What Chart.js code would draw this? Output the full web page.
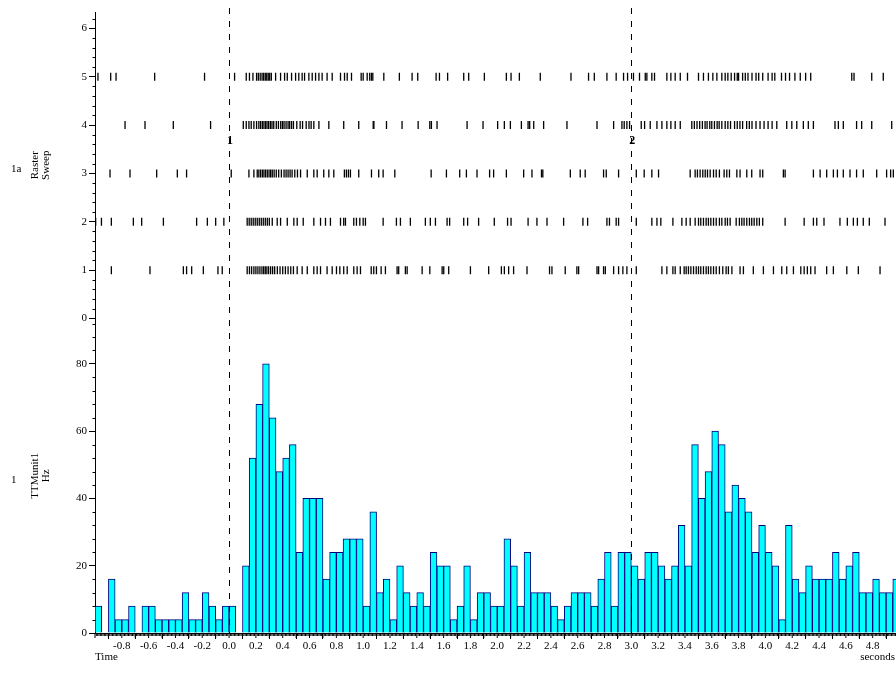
<!DOCTYPE html>
<html>
<head>
<meta charset="utf-8">
<script src="https://cdn.jsdelivr.net/npm/chart.js@4.4.0/dist/chart.umd.min.js"></script>
<style>
  html, body { margin: 0; padding: 0; background: #fff; }
</style>
</head>
<body>
<canvas id="grafico" width="896" height="673"></canvas>
<script>
// histogram bins (left edge, seconds) and rate per bin (Hz)
const binLeft = [
  -1.00, -0.95, -0.90, -0.85, -0.80, -0.75, -0.70, -0.65, -0.60, -0.55,
  -0.50, -0.45, -0.40, -0.35, -0.30, -0.25, -0.20, -0.15, -0.10, -0.05,
  0.00, 0.05, 0.10, 0.15, 0.20, 0.25, 0.30, 0.35, 0.40, 0.45,
  0.50, 0.55, 0.60, 0.65, 0.70, 0.75, 0.80, 0.85, 0.90, 0.95,
  1.00, 1.05, 1.10, 1.15, 1.20, 1.25, 1.30, 1.35, 1.40, 1.45,
  1.50, 1.55, 1.60, 1.65, 1.70, 1.75, 1.80, 1.85, 1.90, 1.95,
  2.00, 2.05, 2.10, 2.15, 2.20, 2.25, 2.30, 2.35, 2.40, 2.45,
  2.50, 2.55, 2.60, 2.65, 2.70, 2.75, 2.80, 2.85, 2.90, 2.95,
  3.00, 3.05, 3.10, 3.15, 3.20, 3.25, 3.30, 3.35, 3.40, 3.45,
  3.50, 3.55, 3.60, 3.65, 3.70, 3.75, 3.80, 3.85, 3.90, 3.95,
  4.00, 4.05, 4.10, 4.15, 4.20, 4.25, 4.30, 4.35, 4.40, 4.45,
  4.50, 4.55, 4.60, 4.65, 4.70, 4.75, 4.80, 4.85, 4.90, 4.95
];
const binWidth = 0.05;
const rates = [
  8, 0, 16, 4, 4, 8, 0, 8, 8, 4,
  4, 4, 4, 12, 4, 4, 12, 8, 4, 8,
  8, 0, 20, 52, 68, 80, 64, 48, 52, 56,
  24, 40, 40, 40, 16, 24, 24, 28, 28, 28,
  8, 36, 12, 16, 4, 20, 12, 8, 12, 8,
  24, 20, 20, 4, 8, 20, 4, 12, 12, 8,
  8, 28, 20, 8, 24, 12, 12, 12, 8, 4,
  8, 12, 12, 12, 8, 16, 24, 8, 24, 24,
  20, 16, 24, 24, 20, 16, 20, 32, 20, 56,
  40, 48, 60, 56, 36, 44, 40, 36, 24, 32,
  24, 20, 4, 32, 16, 12, 20, 16, 16, 16,
  24, 16, 20, 24, 12, 12, 16, 12, 12, 16
];

// spike times (s) per sweep, read from the raster
const sweep1 = [-0.878, -0.59, -0.341, -0.317, -0.279, -0.192, -0.083, -0.051,
  0.135, 0.152, 0.168, 0.185, 0.2, 0.215, 0.23, 0.245, 0.258, 0.27, 0.282, 0.295, 0.31, 0.325, 0.34, 0.36, 0.38, 0.4, 0.42, 0.44, 0.46, 0.48, 0.508,
  0.545, 0.583, 0.632, 0.657, 0.682, 0.731, 0.769, 0.801, 0.826, 0.855, 0.881, 0.93, 0.955, 0.98,
  1.06, 1.079, 1.099, 1.134, 1.166, 1.253, 1.265, 1.315, 1.328, 1.44, 1.497, 1.589, 1.601, 1.638, 1.8, 1.936,
  2.031, 2.053, 2.085, 2.122, 2.222, 2.39, 2.408, 2.507, 2.594, 2.607, 2.744, 2.756, 2.793, 2.806, 2.868, 2.905, 2.937, 2.967,
  3.037, 3.228, 3.265, 3.31, 3.327, 3.365, 3.394, 3.409, 3.426, 3.444, 3.464, 3.484, 3.501, 3.518, 3.538, 3.558, 3.575, 3.593, 3.613, 3.633, 3.657, 3.682, 3.707, 3.724, 3.75, 3.811, 3.836, 3.91, 3.985,
  4.06, 4.122, 4.159, 4.209, 4.264, 4.289, 4.313, 4.338, 4.37, 4.457, 4.507, 4.607, 4.693, 4.855];
const sweep2 = [-0.995, -0.952, -0.878, -0.714, -0.652, -0.49, -0.242, -0.162, -0.1, -0.039,
  0.135, 0.15, 0.165, 0.18, 0.195, 0.21, 0.225, 0.24, 0.255, 0.27, 0.285, 0.3, 0.322, 0.359, 0.384, 0.434, 0.483, 0.508, 0.553, 0.632, 0.682, 0.719, 0.756, 0.831, 0.855, 0.868, 0.93, 0.95, 0.975, 1.0, 1.017,
  1.149, 1.248, 1.278, 1.352, 1.464, 1.501, 1.539, 1.626, 1.645, 1.75, 1.779, 1.861, 1.978,
  2.077, 2.103, 2.23, 2.296, 2.371, 2.495, 2.639, 2.674, 2.818, 2.837, 2.887, 2.905,
  3.037, 3.153, 3.191, 3.22, 3.31, 3.377, 3.409, 3.439, 3.476, 3.501, 3.518, 3.538, 3.558, 3.575, 3.593, 3.613, 3.633, 3.657, 3.675, 3.7, 3.717, 3.737, 3.782, 3.806, 3.824, 3.841, 3.861, 3.881, 3.898, 3.916, 3.936, 3.955, 3.98,
  4.147, 4.289, 4.358, 4.383, 4.437, 4.556, 4.611, 4.656, 4.686, 4.73, 4.775, 4.892];
const sweep3 = [-0.888, -0.739, -0.54, -0.386, -0.317, 0.016,
  0.148, 0.185, 0.21, 0.222, 0.235, 0.248, 0.26, 0.272, 0.285, 0.298, 0.31, 0.322, 0.336, 0.352, 0.37, 0.39, 0.41, 0.425, 0.44, 0.455, 0.47, 0.49, 0.51, 0.533,
  0.583, 0.632, 0.657, 0.706, 0.744, 0.781, 0.86, 0.875, 0.89, 0.905, 0.967,
  1.062, 1.116, 1.149, 1.236, 1.507, 1.621, 1.72, 1.77, 1.849, 1.943, 1.973,
  2.068, 2.197, 2.259, 2.33, 2.34, 2.545, 2.619, 2.656, 2.793, 2.813, 2.905,
  3.037, 3.096, 3.153, 3.203, 3.439, 3.476, 3.493, 3.513, 3.533, 3.551, 3.568, 3.588, 3.613, 3.633, 3.657, 3.692, 3.712, 3.732, 3.787, 3.811, 3.861, 3.898, 3.96, 3.98,
  4.134, 4.147, 4.358, 4.408, 4.457, 4.507, 4.537, 4.581, 4.631, 4.68, 4.73, 4.83, 4.904, 4.934, 4.954];
const sweep4 = [-0.776, -0.627, -0.416, -0.138, 0.106,
  0.128, 0.148, 0.165, 0.185, 0.205, 0.222, 0.235, 0.248, 0.26, 0.272, 0.283, 0.295, 0.308, 0.32, 0.333, 0.352, 0.368, 0.385, 0.398, 0.41, 0.425, 0.44, 0.452, 0.466, 0.48, 0.505, 0.53, 0.548, 0.575, 0.596, 0.612, 0.632, 0.67, 0.744, 0.855, 0.967,
  1.075, 1.08, 1.174, 1.29, 1.41, 1.497, 1.509, 1.551, 1.775, 1.894,
  2.003, 2.053, 2.098, 2.18, 2.23, 2.242, 2.272, 2.346, 2.52, 2.744, 2.868, 2.93, 2.947, 2.967, 2.987,
  3.074, 3.099, 3.141, 3.191, 3.228, 3.265, 3.295, 3.327, 3.365, 3.451, 3.47, 3.49, 3.51, 3.53, 3.55, 3.565, 3.585, 3.6, 3.62, 3.64, 3.655, 3.675, 3.7, 3.72, 3.74, 3.77, 3.79, 3.81, 3.83, 3.86, 3.88, 3.9, 3.93, 3.96, 3.99,
  4.02, 4.05, 4.085, 4.159, 4.197, 4.234, 4.283, 4.32, 4.358, 4.519, 4.544, 4.581, 4.68, 4.718, 4.793, 4.942];
const sweep5 = [-0.978, -0.883, -0.843, -0.555, -0.183, 0.041,
  0.128, 0.152, 0.178, 0.205, 0.218, 0.232, 0.246, 0.258, 0.27, 0.281, 0.292, 0.303, 0.315, 0.347, 0.384, 0.414, 0.434, 0.466, 0.496, 0.52, 0.545, 0.563, 0.595, 0.62, 0.645, 0.67, 0.694, 0.731, 0.769, 0.831, 0.861, 0.881, 0.913, 0.985,
  1.0, 1.03, 1.049, 1.062, 1.072, 1.154, 1.27, 1.365, 1.407, 1.544, 1.569, 1.63, 1.75, 1.787, 1.904,
  2.068, 2.103, 2.165, 2.321, 2.55, 2.681, 2.724, 2.818, 2.887, 2.942, 2.972,
  3.016, 3.061, 3.104, 3.116, 3.153, 3.173, 3.265, 3.295, 3.327, 3.365, 3.419, 3.501, 3.538, 3.575, 3.608, 3.638, 3.675, 3.7, 3.72, 3.745, 3.77, 3.79, 3.8, 3.83, 3.85, 3.87, 3.9, 3.93, 3.95, 3.98,
  4.02, 4.05, 4.07, 4.12, 4.15, 4.18, 4.22, 4.26, 4.3, 4.338, 4.644, 4.661, 4.793, 4.879];
const sweeps = [sweep1, sweep2, sweep3, sweep4, sweep5];

// tick labels and event markers
const xTicks = [-0.8, -0.6, -0.4, -0.2, 0.0, 0.2, 0.4, 0.6, 0.8, 1.0, 1.2, 1.4, 1.6, 1.8, 2.0,
  2.2, 2.4, 2.6, 2.8, 3.0, 3.2, 3.4, 3.6, 3.8, 4.0, 4.2, 4.4, 4.6, 4.8];
const sweepTicks = [0, 1, 2, 3, 4, 5, 6];
const rateTicks = [0, 20, 40, 60, 80];
const markerTimes = [0, 3];
const markerNames = ['1', '2'];

const serif = "'Liberation Serif', 'DejaVu Serif', serif";
Chart.defaults.font.family = serif;
Chart.defaults.font.size = 11;
Chart.defaults.color = '#000';

// raster: one scatter dataset per sweep, vertical line markers
const rasterSets = sweeps.map((tempos, i) => ({
  type: 'scatter',
  data: tempos.map(t => ({ x: t, y: i + 1 })),
  yAxisID: 'yR',
  pointStyle: 'line',
  rotation: 90,
  radius: 4,
  hoverRadius: 4,
  borderColor: '#000',
  borderWidth: 1.3
}));

const histSet = {
  type: 'bar',
  data: binLeft.map((t, i) => ({ x: t + binWidth / 2, y: rates[i] })),
  yAxisID: 'yH',
  backgroundColor: '#00ffff',
  borderColor: '#000080',
  borderWidth: 1,
  barPercentage: 1,
  categoryPercentage: 1
};

function semPadding(s) {
  s.paddingTop = 0; s.paddingBottom = 0; s.paddingLeft = 0; s.paddingRight = 0;
}

// minor ticks, dashed event lines and the loose labels
const extras = {
  id: 'extras',
  afterDatasetsDraw(chart) {
    const { ctx, chartArea, scales } = chart;
    ctx.save();
    ctx.strokeStyle = '#000';
    ctx.lineWidth = 1;
    ctx.setLineDash([6, 7]);
    markerTimes.forEach(t => {
      const px = Math.round(scales.x.getPixelForValue(t)) + 0.5;
      ctx.beginPath();
      ctx.moveTo(px, 8);
      ctx.lineTo(px, chartArea.bottom);
      ctx.stroke();
    });
    ctx.setLineDash([]);
    ctx.font = "bold 12px " + serif;
    ctx.fillStyle = '#000';
    ctx.textAlign = 'center';
    ctx.textBaseline = 'middle';
    markerTimes.forEach((t, i) => {
      ctx.fillText(markerNames[i], scales.x.getPixelForValue(t) + 1, scales.yR.getPixelForValue(3.68));
    });
    ctx.restore();
  },
  afterDraw(chart) {
    const { ctx, chartArea, scales } = chart;
    const { x, yR, yH } = scales;
    ctx.save();
    ctx.strokeStyle = '#000';
    ctx.lineWidth = 1;
    ctx.beginPath();
    // x minor ticks every 10 ms
    for (let k = -100; k <= 497; k++) {
      const px = x.getPixelForValue(k / 100);
      const len = k % 10 === 0 ? 5 : 3;
      ctx.moveTo(px, chartArea.bottom);
      ctx.lineTo(px, chartArea.bottom + len);
    }
    const ax = chartArea.left + 0.5;
    for (let k = 0; k <= 31; k++) {
      if (k % 5 === 0) continue;
      const py = Math.round(yR.getPixelForValue(k / 5)) + 0.5;
      ctx.moveTo(ax - 3, py); ctx.lineTo(ax, py);
    }
    for (let k = 0; k <= 92; k += 4) {
      if (k % 20 === 0) continue;
      const py = Math.round(yH.getPixelForValue(k)) + 0.5;
      ctx.moveTo(ax - 3, py); ctx.lineTo(ax, py);
    }
    ctx.stroke();

    ctx.fillStyle = '#000';
    ctx.font = "11px " + serif;
    ctx.textBaseline = 'middle';
    ctx.textAlign = 'left';
    ctx.fillText('1a', 11, (yR.top + yR.bottom) / 2 + 4);
    ctx.fillText('1', 11, (yH.top + yH.bottom) / 2 + 4);
    ctx.fillText('Time', 95, 657);
    ctx.textAlign = 'right';
    ctx.fillText('seconds', 895, 657);
    ctx.restore();
  }
};

const config = {
  type: 'scatter',
  data: { datasets: [histSet, ...rasterSets] },
  options: {
    responsive: false,
    animation: false,
    events: [],
    // no automatic room for point markers: the plot runs to the page edge
    layout: { autoPadding: false, padding: { top: 12, left: 0, right: 0, bottom: 0 } },
    plugins: { legend: { display: false }, tooltip: { enabled: false } },
    scales: {
      x: {
        type: 'linear',
        min: -1,
        max: 4.974,
        offset: false,
        grid: { drawOnChartArea: false, tickLength: 6, color: '#000' },
        border: { color: '#000' },
        afterBuildTicks: s => { s.ticks = xTicks.map(v => ({ value: v })); },
        ticks: { callback: v => v.toFixed(1), padding: 1, maxRotation: 0, autoSkip: false },
        afterFit: s => { s.height = 40; semPadding(s); }
      },
      // histogram scale listed first: Chart.js stacks the later left scale on top
      yH: {
        type: 'linear',
        position: 'left',
        stack: 'painel',
        stackWeight: 314.5,
        min: 0,
        max: 93.5,
        grid: { drawOnChartArea: false, tickLength: 6, color: '#000' },
        border: { color: '#000' },
        afterBuildTicks: s => { s.ticks = rateTicks.map(v => ({ value: v })); },
        ticks: { padding: 2 },
        title: { display: true, text: ['TTMunit1', 'Hz'], padding: { top: 30 }, font: { size: 11, lineHeight: 1 } },
        afterFit: s => { s.width = 95; semPadding(s); }
      },
      yR: {
        type: 'linear',
        position: 'left',
        stack: 'painel',
        stackWeight: 306.5,
        min: 0,
        max: 6.34,
        grid: { drawOnChartArea: false, tickLength: 6, color: '#000' },
        border: { color: '#000' },
        afterBuildTicks: s => { s.ticks = sweepTicks.map(v => ({ value: v })); },
        ticks: { padding: 2 },
        title: { display: true, text: ['Raster', 'Sweep'], padding: { top: 30 }, font: { size: 11, lineHeight: 1 } },
        afterFit: s => { s.width = 95; semPadding(s); }
      }
    }
  },
  plugins: [extras]
};

const myChart = new Chart(document.getElementById('grafico'), config);
</script>
</body>
</html>
